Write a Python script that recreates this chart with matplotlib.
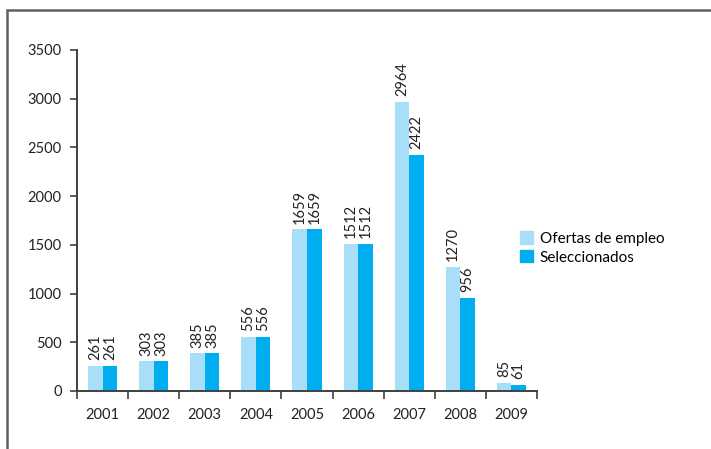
import matplotlib
matplotlib.use("Agg")
import matplotlib.pyplot as plt
import numpy as np
from matplotlib.patches import Rectangle, Patch

plt.rcParams['font.family'] = ['Lato', 'DejaVu Sans']

# --- Data ---
years = ['2001', '2002', '2003', '2004', '2005', '2006', '2007', '2008', '2009']
ofertas = [261, 303, 385, 556, 1659, 1512, 2964, 1270, 85]
seleccionados = [261, 303, 385, 556, 1659, 1512, 2422, 956, 61]

LIGHT = '#A9DEF8'
DARK = '#00AEEF'
AXIS = '#404040'

W, H = 711, 449
fig = plt.figure(figsize=(W / 100, H / 100), dpi=100)

# outer frame (runs off the right and bottom edges)
fig.patches.append(Rectangle((7 / W, -0.1), 1.2, 1 - 10 / H + 0.1,
                             transform=fig.transFigure, fill=False,
                             edgecolor='#606060', linewidth=1.8))

ax = fig.add_axes([77 / W, (H - 391) / H, (537 - 77) / W, (391 - 50) / H])

x = np.arange(len(years))
bw = 0.285
ax.bar(x - bw / 2, ofertas, bw, color=LIGHT, label='Ofertas de empleo')
ax.bar(x + bw / 2, seleccionados, bw, color=DARK, label='Seleccionados')

for xi, v in zip(x, ofertas):
    ax.text(xi - bw / 2, v + 60, str(v), rotation=90, ha='center', va='bottom',
            fontsize=10.5, color='#222222')
for xi, v in zip(x, seleccionados):
    ax.text(xi + bw / 2, v + 60, str(v), rotation=90, ha='center', va='bottom',
            fontsize=10.5, color='#222222')

ax.set_xlim(-0.5, len(years) - 0.5)
ax.set_ylim(0, 3500)
ax.set_yticks(np.arange(0, 3501, 500))
ax.tick_params(axis='y', direction='out', length=5, width=1.2, color=AXIS,
               labelsize=10.5, labelcolor='#222222', pad=6)

# category ticks at boundaries, labels at centres
ax.set_xticks(np.arange(-0.5, len(years), 1.0))
ax.set_xticklabels([])
ax.set_xticks(x, minor=True)
ax.set_xticklabels(years, minor=True)
ax.tick_params(axis='x', which='major', direction='out', length=6, width=1.2, color=AXIS)
ax.tick_params(axis='x', which='minor', length=0, labelsize=10.5,
               labelcolor='#222222', pad=12)

for s in ['top', 'right']:
    ax.spines[s].set_visible(False)
for s in ['left', 'bottom']:
    ax.spines[s].set_color(AXIS)
    ax.spines[s].set_linewidth(1.4)

handles = [Patch(color=LIGHT), Patch(color=DARK)]
fig.legend(handles, ['Ofertas de empleo', 'Seleccionados'],
           loc='center left', bbox_to_anchor=(506 / W, 1 - 248 / H),
           frameon=False, fontsize=11, handlelength=0.85, handleheight=0.85,
           handletextpad=0.45, labelspacing=0.3)

fig.savefig('out.png', dpi=100)
